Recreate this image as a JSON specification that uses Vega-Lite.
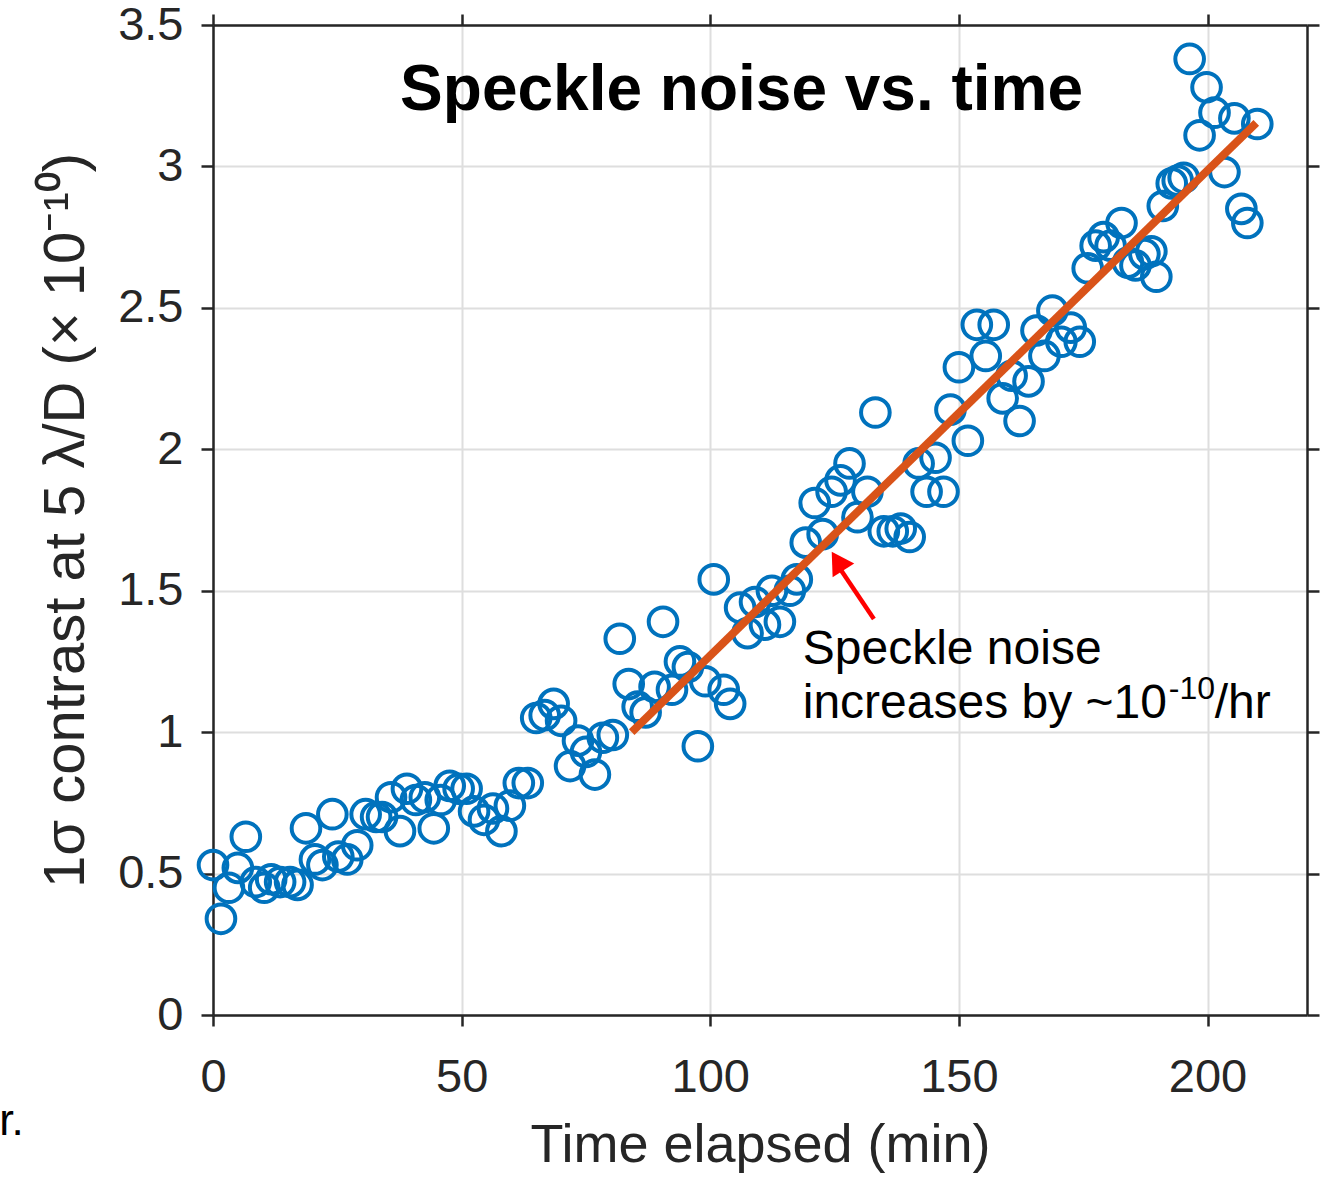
{
  "$schema": "https://vega.github.io/schema/vega-lite/v6.json",
  "width": 1094,
  "height": 990,
  "autosize": {"type": "none"},
  "padding": {"left": 213, "top": 25, "right": 15, "bottom": 163},
  "background": "white",
  "config": {
    "view": {"stroke": null},
    "font": "Liberation Sans",
    "axis": {
      "domainColor": "#262626",
      "domainWidth": 2.5,
      "tickColor": "#262626",
      "tickWidth": 2.5,
      "labelColor": "#262626",
      "labelFont": "Liberation Sans",
      "labelFontSize": 47,
      "titleColor": "#262626",
      "titleFont": "Liberation Sans",
      "titleFontWeight": "normal",
      "gridColor": "#dedede",
      "gridWidth": 2
    }
  },
  "datasets": {
    "pts": [
      {"t":0,"c":0.53},{"t":1.6,"c":0.34},{"t":3.2,"c":0.45},{"t":5,"c":0.52},{"t":6.6,"c":0.63},
      {"t":8.6,"c":0.47},{"t":10.3,"c":0.45},{"t":11.7,"c":0.48},{"t":13.5,"c":0.47},{"t":15.5,"c":0.47},
      {"t":17,"c":0.46},{"t":18.7,"c":0.66},{"t":20.5,"c":0.55},{"t":22,"c":0.53},{"t":24,"c":0.71},
      {"t":25.2,"c":0.56},{"t":27,"c":0.55},{"t":29,"c":0.60},{"t":30.7,"c":0.71},{"t":32.8,"c":0.70},
      {"t":34,"c":0.70},{"t":35.8,"c":0.77},{"t":37.6,"c":0.65},{"t":39,"c":0.80},{"t":40.8,"c":0.76},
      {"t":42.6,"c":0.77},{"t":44.4,"c":0.66},{"t":45.8,"c":0.76},{"t":47.6,"c":0.81},{"t":49.4,"c":0.80},
      {"t":51,"c":0.80},{"t":52.5,"c":0.72},{"t":54.5,"c":0.69},{"t":56.3,"c":0.73},{"t":58,"c":0.65},
      {"t":59.7,"c":0.74},{"t":61.5,"c":0.82},{"t":63.3,"c":0.82},{"t":65,"c":1.05},{"t":66.7,"c":1.06},
      {"t":68.5,"c":1.10},{"t":70,"c":1.04},{"t":71.8,"c":0.88},{"t":73.4,"c":0.97},{"t":75,"c":0.93},
      {"t":76.8,"c":0.85},{"t":78.4,"c":0.98},{"t":80.4,"c":0.99},{"t":81.8,"c":1.33},{"t":83.6,"c":1.17},
      {"t":85.4,"c":1.09},{"t":87,"c":1.07},{"t":88.8,"c":1.16},{"t":90.5,"c":1.39},{"t":92.3,"c":1.15},
      {"t":93.9,"c":1.25},{"t":95.5,"c":1.23},{"t":97.5,"c":0.95},{"t":99,"c":1.18},{"t":100.7,"c":1.54},
      {"t":102.7,"c":1.15},{"t":104,"c":1.10},{"t":106,"c":1.44},{"t":107.5,"c":1.35},{"t":109,"c":1.46},
      {"t":111,"c":1.38},{"t":112.4,"c":1.50},{"t":114,"c":1.39},{"t":116,"c":1.50},{"t":117.4,"c":1.54},
      {"t":119.2,"c":1.67},{"t":121,"c":1.81},{"t":122.6,"c":1.70},{"t":124.4,"c":1.85},{"t":126.2,"c":1.89},
      {"t":128,"c":1.95},{"t":129.6,"c":1.76},{"t":131.6,"c":1.85},{"t":133.2,"c":2.13},{"t":134.9,"c":1.71},
      {"t":136.7,"c":1.71},{"t":138.3,"c":1.72},{"t":140.1,"c":1.69},{"t":141.9,"c":1.95},{"t":143.5,"c":1.85},
      {"t":145.3,"c":1.97},{"t":146.9,"c":1.85},{"t":148.3,"c":2.14},{"t":150,"c":2.29},{"t":151.8,"c":2.03},
      {"t":153.6,"c":2.44},{"t":155.4,"c":2.33},{"t":157,"c":2.44},{"t":158.8,"c":2.18},{"t":160.6,"c":2.26},
      {"t":162.2,"c":2.10},{"t":164,"c":2.24},{"t":165.6,"c":2.42},{"t":167.2,"c":2.33},{"t":168.8,"c":2.49},
      {"t":170.6,"c":2.38},{"t":172.5,"c":2.43},{"t":174.3,"c":2.38},{"t":175.9,"c":2.64},{"t":177.5,"c":2.72},
      {"t":179.1,"c":2.75},{"t":180.5,"c":2.72},{"t":182.7,"c":2.80},{"t":184,"c":2.66},{"t":185.5,"c":2.65},
      {"t":187.3,"c":2.69},{"t":188.7,"c":2.70},{"t":189.7,"c":2.61},{"t":191,"c":2.86},{"t":192.8,"c":2.94},
      {"t":194,"c":2.95},{"t":195.2,"c":2.96},{"t":196.4,"c":3.38},{"t":198.4,"c":3.11},{"t":199.8,"c":3.28},
      {"t":201.4,"c":3.19},{"t":203.4,"c":2.98},{"t":205.4,"c":3.17},{"t":206.8,"c":2.85},{"t":208,"c":2.80},
      {"t":210,"c":3.15}
    ],
    "fit": [
      {"t": 84.2, "c": 1.0},
      {"t": 209.8, "c": 3.154}
    ],
    "one": [{}]
  },
  "layer": [
    {
      "data": {"name": "pts"},
      "mark": {"type": "point", "shape": "circle", "filled": false, "size": 820, "strokeWidth": 4, "color": "#0072BD", "opacity": 1},
      "encoding": {
        "x": {
          "field": "t", "type": "quantitative",
          "scale": {"domain": [0, 220], "nice": false, "zero": false},
          "axis": {
            "orient": "bottom", "values": [0, 50, 100, 150, 200], "grid": true,
            "title": "Time elapsed (min)", "titleFontSize": 54, "titlePadding": 18,
            "tickSize": 11, "labelPadding": 28, "labelFlush": false
          }
        },
        "y": {
          "field": "c", "type": "quantitative",
          "scale": {"domain": [0, 3.5], "nice": false, "zero": false},
          "axis": {
            "orient": "left", "values": [0, 0.5, 1, 1.5, 2, 2.5, 3, 3.5], "grid": true,
            "format": "~g",
            "title": "1σ contrast at 5 λ/D (× 10⁻¹⁰)", "titleFontSize": 58, "titlePadding": 22,
            "tickSize": 12, "labelPadding": 18, "labelFlush": false
          }
        }
      }
    },
    {
      "data": {"name": "fit"},
      "mark": {"type": "line", "color": "#D95319", "strokeWidth": 8},
      "encoding": {
        "x": {
          "field": "t", "type": "quantitative",
          "axis": {"orient": "top", "values": [0, 50, 100, 150, 200], "grid": false, "labels": false, "title": null, "tickSize": 11}
        },
        "y": {
          "field": "c", "type": "quantitative",
          "axis": {"orient": "right", "values": [0, 0.5, 1, 1.5, 2, 2.5, 3, 3.5], "grid": false, "labels": false, "title": null, "tickSize": 12}
        }
      }
    },
    {
      "data": {"name": "one"},
      "mark": {"type": "rule", "color": "#FF0000", "strokeWidth": 4.5},
      "encoding": {
        "x": {"datum": 132.9, "type": "quantitative", "axis": null},
        "y": {"datum": 1.40, "type": "quantitative", "axis": null},
        "x2": {"datum": 126.0},
        "y2": {"datum": 1.58}
      }
    },
    {
      "data": {"name": "one"},
      "mark": {"type": "point", "shape": "triangle-up", "filled": true, "size": 650, "angle": 328, "color": "#FF0000", "opacity": 1, "strokeWidth": 0},
      "encoding": {
        "x": {"datum": 125.6, "type": "quantitative", "axis": null},
        "y": {"datum": 1.605, "type": "quantitative", "axis": null}
      }
    },
    {
      "data": {"name": "one"},
      "mark": {"type": "text", "text": "Speckle noise vs. time", "font": "Liberation Sans", "fontSize": 64, "fontWeight": "bold", "align": "center", "baseline": "alphabetic", "color": "#000000"},
      "encoding": {
        "x": {"datum": 106.3, "type": "quantitative", "axis": null},
        "y": {"datum": 3.199, "type": "quantitative", "axis": null}
      }
    },
    {
      "data": {"name": "one"},
      "mark": {"type": "text", "text": "Speckle noise", "font": "Liberation Sans", "fontSize": 48, "align": "left", "baseline": "alphabetic", "color": "#000000"},
      "encoding": {
        "x": {"datum": 118.6, "type": "quantitative", "axis": null},
        "y": {"datum": 1.241, "type": "quantitative", "axis": null}
      }
    },
    {
      "data": {"name": "one"},
      "mark": {"type": "text", "text": "increases by ~10", "font": "Liberation Sans", "fontSize": 48, "align": "left", "baseline": "alphabetic", "color": "#000000"},
      "encoding": {
        "x": {"datum": 118.6, "type": "quantitative", "axis": null},
        "y": {"datum": 1.050, "type": "quantitative", "axis": null}
      }
    },
    {
      "data": {"name": "one"},
      "mark": {"type": "text", "text": "-10", "font": "Liberation Sans", "fontSize": 32, "align": "left", "baseline": "alphabetic", "dx": 366, "dy": -19, "color": "#000000"},
      "encoding": {
        "x": {"datum": 118.6, "type": "quantitative", "axis": null},
        "y": {"datum": 1.050, "type": "quantitative", "axis": null}
      }
    },
    {
      "data": {"name": "one"},
      "mark": {"type": "text", "text": "/hr", "font": "Liberation Sans", "fontSize": 48, "align": "left", "baseline": "alphabetic", "dx": 412, "color": "#000000"},
      "encoding": {
        "x": {"datum": 118.6, "type": "quantitative", "axis": null},
        "y": {"datum": 1.050, "type": "quantitative", "axis": null}
      }
    },
    {
      "data": {"name": "one"},
      "mark": {"type": "text", "text": "r.", "font": "Liberation Sans", "fontSize": 44, "align": "left", "baseline": "alphabetic", "color": "#000000"},
      "encoding": {
        "x": {"datum": -43, "type": "quantitative", "axis": null},
        "y": {"datum": -0.424, "type": "quantitative", "axis": null}
      }
    }
  ],
  "resolve": {"axis": {"x": "independent", "y": "independent"}}
}
